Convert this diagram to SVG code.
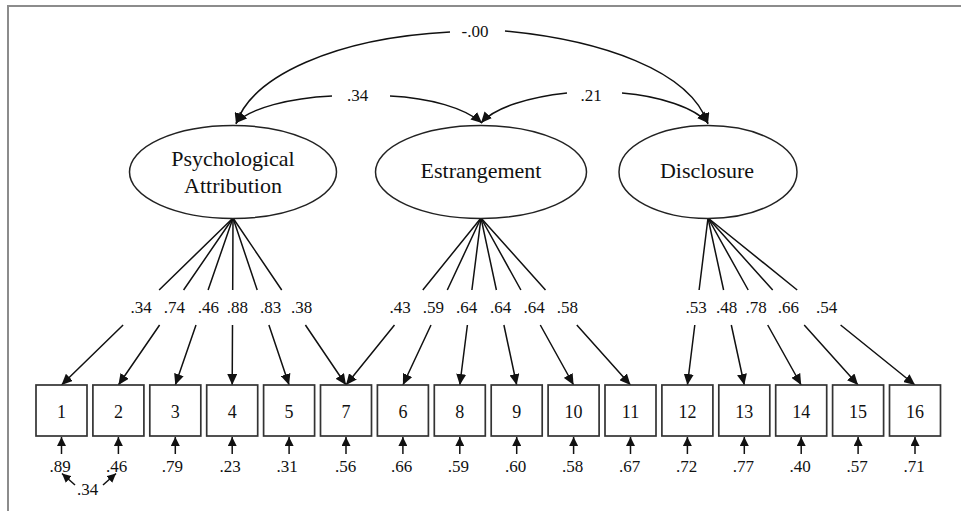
<svg xmlns="http://www.w3.org/2000/svg" width="961" height="511" viewBox="0 0 961 511">
<style>
.frame{stroke:#8c8c8c;stroke-width:2;fill:none}
.lat{fill:#fff;stroke:#222;stroke-width:1.5}
.obs{fill:#fff;stroke:#333;stroke-width:1.7}
.ln{stroke:#111;stroke-width:1.5;fill:none}
.t{font-family:"Liberation Serif","Times New Roman",serif;fill:#111;text-anchor:middle}
.big{font-size:22px}
.num{font-size:17px}
.box{font-size:18px}
</style>
<defs>
<marker id="ah" viewBox="0 0 11 10" refX="11" refY="5" markerWidth="11" markerHeight="10" markerUnits="userSpaceOnUse" orient="auto">
<path d="M0,0 L11,5 L0,10 z" fill="#111"/>
</marker>
<marker id="ahs" viewBox="0 0 9 9" refX="9" refY="4.5" markerWidth="9" markerHeight="9" markerUnits="userSpaceOnUse" orient="auto">
<path d="M0,0 L9,4.5 L0,9 z" fill="#111"/>
</marker>
</defs>
<rect width="961" height="511" fill="#fff"/>
<path class="frame" d="M8,511 L8,6 L961,6"/>

<g id="connectors">
<!-- factor covariances -->
<path class="ln" d="M450,32 C 335,38 252,76 236,124" marker-end="url(#ah)"/>
<path class="ln" d="M505,31 C 600,40 690,70 708,124" marker-end="url(#ah)"/>
<path class="ln" d="M332,96 C 290,98 250,108 236,123" marker-end="url(#ah)"/>
<path class="ln" d="M390,96 C 430,98 465,108 482,123" marker-end="url(#ah)"/>
<path class="ln" d="M567,93 C 530,97 495,107 481,123" marker-end="url(#ah)"/>
<path class="ln" d="M622,93 C 660,96 695,108 708,123" marker-end="url(#ah)"/>
<!-- Psychological Attribution loadings -->
<path class="ln" d="M233,218 L159.1,290 M123.1,325 L61.5,385" marker-end="url(#ah)"/>
<path class="ln" d="M233,218 L183.6,290 M159.6,325 L118.4,385" marker-end="url(#ah)"/>
<path class="ln" d="M233,218 L208.1,290 M196,325 L175.3,385" marker-end="url(#ah)"/>
<path class="ln" d="M233,218 L232.7,290 M232.5,325 L232.2,385" marker-end="url(#ah)"/>
<path class="ln" d="M233,218 L257.2,290 M268.9,325 L289.1,385" marker-end="url(#ah)"/>
<path class="ln" d="M233,218 L281.7,290 M305.4,325 L346,385" marker-end="url(#ah)"/>
<!-- Estrangement loadings -->
<path class="ln" d="M481,218 L422.8,290 M394.5,325 L346,385" marker-end="url(#ah)"/>
<path class="ln" d="M481,218 L447.3,290 M431,325 L402.9,385" marker-end="url(#ah)"/>
<path class="ln" d="M481,218 L471.9,290 M467.4,325 L459.8,385" marker-end="url(#ah)"/>
<path class="ln" d="M481,218 L496.4,290 M503.9,325 L516.7,385" marker-end="url(#ah)"/>
<path class="ln" d="M481,218 L520.9,290 M540.3,325 L573.6,385" marker-end="url(#ah)"/>
<path class="ln" d="M481,218 L545.5,290 M576.8,325 L630.5,385" marker-end="url(#ah)"/>
<!-- Disclosure loadings -->
<path class="ln" d="M708,218 L699.1,290 M694.8,325 L687.4,385" marker-end="url(#ah)"/>
<path class="ln" d="M708,218 L723.6,290 M731.3,325 L744.3,385" marker-end="url(#ah)"/>
<path class="ln" d="M708,218 L748.2,290 M767.7,325 L801.2,385" marker-end="url(#ah)"/>
<path class="ln" d="M708,218 L772.7,290 M804.2,325 L858.1,385" marker-end="url(#ah)"/>
<path class="ln" d="M708,218 L797.2,290 M840.6,325 L915,385" marker-end="url(#ah)"/>
<!-- error arrows -->
<path class="ln" d="M61.5,454 L61.5,437" marker-end="url(#ahs)"/>
<path class="ln" d="M118.4,454 L118.4,437" marker-end="url(#ahs)"/>
<path class="ln" d="M175.3,454 L175.3,437" marker-end="url(#ahs)"/>
<path class="ln" d="M232.2,454 L232.2,437" marker-end="url(#ahs)"/>
<path class="ln" d="M289.1,454 L289.1,437" marker-end="url(#ahs)"/>
<path class="ln" d="M346,454 L346,437" marker-end="url(#ahs)"/>
<path class="ln" d="M402.9,454 L402.9,437" marker-end="url(#ahs)"/>
<path class="ln" d="M459.8,454 L459.8,437" marker-end="url(#ahs)"/>
<path class="ln" d="M516.7,454 L516.7,437" marker-end="url(#ahs)"/>
<path class="ln" d="M573.6,454 L573.6,437" marker-end="url(#ahs)"/>
<path class="ln" d="M630.5,454 L630.5,437" marker-end="url(#ahs)"/>
<path class="ln" d="M687.4,454 L687.4,437" marker-end="url(#ahs)"/>
<path class="ln" d="M744.3,454 L744.3,437" marker-end="url(#ahs)"/>
<path class="ln" d="M801.2,454 L801.2,437" marker-end="url(#ahs)"/>
<path class="ln" d="M858.1,454 L858.1,437" marker-end="url(#ahs)"/>
<path class="ln" d="M915,454 L915,437" marker-end="url(#ahs)"/>
<!-- error covariance 1-2 -->
<path class="ln" d="M75,485 L62,473.5" marker-end="url(#ahs)"/>
<path class="ln" d="M103,485 L116,473.5" marker-end="url(#ahs)"/>
<!-- labels -->
<text class="t num" x="475" y="36.5">-.00</text>
<text class="t num" x="357.5" y="100.5">.34</text>
<text class="t num" x="591" y="100.5">.21</text>
<text class="t num" x="141" y="313">.34</text>
<text class="t num" x="174.3" y="313">.74</text>
<text class="t num" x="208.3" y="313">.46</text>
<text class="t num" x="237.3" y="313">.88</text>
<text class="t num" x="270.7" y="313">.83</text>
<text class="t num" x="301.7" y="313">.38</text>
<text class="t num" x="400" y="313">.43</text>
<text class="t num" x="433.3" y="313">.59</text>
<text class="t num" x="466.7" y="313">.64</text>
<text class="t num" x="500.7" y="313">.64</text>
<text class="t num" x="534" y="313">.64</text>
<text class="t num" x="567.3" y="313">.58</text>
<text class="t num" x="696" y="313">.53</text>
<text class="t num" x="726.7" y="313">.48</text>
<text class="t num" x="756" y="313">.78</text>
<text class="t num" x="788.3" y="313">.66</text>
<text class="t num" x="826.7" y="313">.54</text>
<text class="t num" x="60" y="471.5">.89</text>
<text class="t num" x="116.7" y="471.5">.46</text>
<text class="t num" x="172.3" y="471.5">.79</text>
<text class="t num" x="230" y="471.5">.23</text>
<text class="t num" x="287" y="471.5">.31</text>
<text class="t num" x="345.5" y="471.5">.56</text>
<text class="t num" x="401.5" y="471.5">.66</text>
<text class="t num" x="458.3" y="471.5">.59</text>
<text class="t num" x="515.7" y="471.5">.60</text>
<text class="t num" x="572.5" y="471.5">.58</text>
<text class="t num" x="629.5" y="471.5">.67</text>
<text class="t num" x="686.5" y="471.5">.72</text>
<text class="t num" x="743.3" y="471.5">.77</text>
<text class="t num" x="800" y="471.5">.40</text>
<text class="t num" x="857" y="471.5">.57</text>
<text class="t num" x="914" y="471.5">.71</text>
<text class="t num" x="87.5" y="495">.34</text>
</g>

<g id="psychological-attribution">
<ellipse class="lat" cx="233" cy="172" rx="103.5" ry="46.5"/>
<text class="t big" x="233" y="166">Psychological</text>
<text class="t big" x="233" y="193">Attribution</text>
</g>
<g id="estrangement">
<ellipse class="lat" cx="481" cy="172" rx="105.5" ry="46.5"/>
<text class="t big" x="481" y="178">Estrangement</text>
</g>
<g id="disclosure">
<ellipse class="lat" cx="708" cy="172" rx="89" ry="46.5"/>
<text class="t big" x="707" y="178">Disclosure</text>
</g>

<g id="item1"><rect class="obs" x="36" y="385" width="51" height="51"/><text class="t box" x="61.5" y="417.5">1</text></g>
<g id="item2"><rect class="obs" x="92.9" y="385" width="51" height="51"/><text class="t box" x="118.4" y="417.5">2</text></g>
<g id="item3"><rect class="obs" x="149.8" y="385" width="51" height="51"/><text class="t box" x="175.3" y="417.5">3</text></g>
<g id="item4"><rect class="obs" x="206.7" y="385" width="51" height="51"/><text class="t box" x="232.2" y="417.5">4</text></g>
<g id="item5"><rect class="obs" x="263.6" y="385" width="51" height="51"/><text class="t box" x="289.1" y="417.5">5</text></g>
<g id="item7"><rect class="obs" x="320.5" y="385" width="51" height="51"/><text class="t box" x="346" y="417.5">7</text></g>
<g id="item6"><rect class="obs" x="377.4" y="385" width="51" height="51"/><text class="t box" x="402.9" y="417.5">6</text></g>
<g id="item8"><rect class="obs" x="434.3" y="385" width="51" height="51"/><text class="t box" x="459.8" y="417.5">8</text></g>
<g id="item9"><rect class="obs" x="491.2" y="385" width="51" height="51"/><text class="t box" x="516.7" y="417.5">9</text></g>
<g id="item10"><rect class="obs" x="548.1" y="385" width="51" height="51"/><text class="t box" x="573.6" y="417.5">10</text></g>
<g id="item11"><rect class="obs" x="605" y="385" width="51" height="51"/><text class="t box" x="630.5" y="417.5">11</text></g>
<g id="item12"><rect class="obs" x="661.9" y="385" width="51" height="51"/><text class="t box" x="687.4" y="417.5">12</text></g>
<g id="item13"><rect class="obs" x="718.8" y="385" width="51" height="51"/><text class="t box" x="744.3" y="417.5">13</text></g>
<g id="item14"><rect class="obs" x="775.7" y="385" width="51" height="51"/><text class="t box" x="801.2" y="417.5">14</text></g>
<g id="item15"><rect class="obs" x="832.6" y="385" width="51" height="51"/><text class="t box" x="858.1" y="417.5">15</text></g>
<g id="item16"><rect class="obs" x="889.5" y="385" width="51" height="51"/><text class="t box" x="915" y="417.5">16</text></g>
</svg>
